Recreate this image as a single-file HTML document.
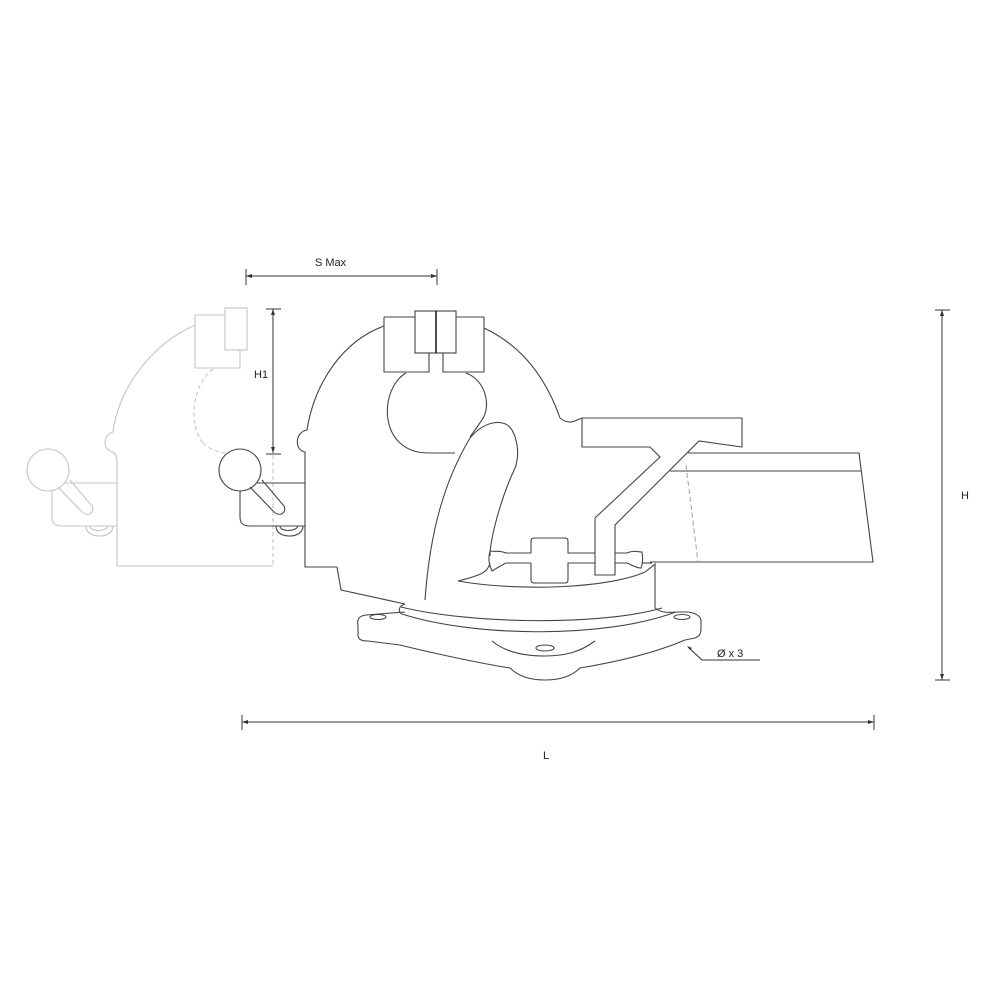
<!DOCTYPE html>
<html><head><meta charset="utf-8"><style>html,body{margin:0;padding:0;background:#fff}svg{display:block}</style></head>
<body>
<svg width="1000" height="1000" viewBox="0 0 1000 1000" xmlns="http://www.w3.org/2000/svg" font-family="Liberation Sans, sans-serif">
<rect width="1000" height="1000" fill="#fff"/>
<!-- Ghost vise -->
<g fill="none" stroke="#c4c4c4" stroke-width="1.1">
  <path d="M195,315 L195,368 L240,368 L240,350"/>
  <path d="M195,315 L225,315"/>
  <rect x="225" y="308" width="22" height="42"/>
  <path d="M195,325 C150,345 118,390 113,432 C103,434 102,450 113,452 C117,455 117,460 117,462 L117,566 L273,566"/>
  <path d="M213,369 C192,385 188,425 203,443" stroke-dasharray="4,3"/>
  <path d="M203,443 C213,452 225,454 235,453" stroke-dasharray="4,3"/>
  <path d="M273,455 L273,566" stroke-dasharray="4,3"/>
  <path d="M117,483 L62,483 C54,483 52,488 52,494 L52,517 C52,524 56,526 62,526 L117,526"/>
  <circle cx="48" cy="470" r="21" fill="#fff"/>
  <path d="M58,487 L82,512 C88,517 95,513 92,506 L70,480"/>
  <path d="M86,526 C86,535 96,536 100,536 C106,536 113,533 113,526"/>
  <path d="M90,526 C90,532 106,532 108,526"/>
</g>
<!-- Front handle (dark) -->
<g fill="none" stroke="#444" stroke-width="1.1">
  <path d="M305,483 L250,483 C242,483 240,488 240,494 L240,517 C240,524 244,526 250,526 L305,526"/>
  <circle cx="240" cy="470" r="21" fill="#fff"/>
  <path d="M250,487 L274,512 C280,517 287,513 284,506 L262,480"/>
  <path d="M276,526 C276,535 286,536 290,536 C296,536 303,533 303,526"/>
  <path d="M280,526 C280,532 296,532 298,526"/>
</g>
<!-- Main vise -->
<g fill="none" stroke="#444" stroke-width="1.1">
  <path d="M688,453 L859,453 L873,562 L650,562"/>
  <path d="M670,471 L861,471"/>
  <path d="M686,465 L698,562" stroke="#aaa" stroke-dasharray="5,3"/>
  <path d="M560,418 C570,426 576,420 582,418 L742,418 L742,447 L699,441 L615,525 L615,575 L595,575 L595,518 L660,457 L650,447 L582,447 L582,418"/>
  <path d="M384,326 C345,340 315,380 307,430 C295,432 294,450 305,452 C305,455 305,458 305,462 L305,567 L337,567"/>
  <path d="M484,328 C520,345 545,375 560,418"/>
  <path d="M384,317 L384,372 L429,372 L429,353"/>
  <path d="M384,317 L415,317"/>
  <path d="M484,317 L484,372 L443,372 L443,353"/>
  <path d="M484,317 L456,317"/>
  <rect x="415" y="311" width="41" height="42"/>
  <line x1="436" y1="311" x2="436" y2="353" stroke="#222" stroke-width="1.6"/>
  <path d="M406,373 C385,385 380,425 400,443 C410,452 420,453 432,453 L455,453"/>
  <path d="M466,373 C485,380 492,405 482,420 L470,437"/>
  <path d="M470,438 C485,420 505,418 512,430 C520,445 518,460 515,468 C500,500 490,540 490,556"/>
  <path d="M470,438 C445,480 430,530 425,600"/>
  <path d="M490,563 C488,572 482,575 458,581"/>
  <path d="M337,567 L341,590 L405,604"/>
  <path d="M531,553 L506,553 C500,550 495,552 490,551 C488,558 489,565 492,571 C497,568 502,565 506,563 L531,563"/>
  <path d="M531,553 L531,541 C531,538 533,538 536,538 L565,538 C568,538 568,540 568,542 L568,553 L595,553"/>
  <path d="M531,563 L531,580 C531,583 533,583 536,583 L565,583 C568,583 568,581 568,579 L568,563 L595,563"/>
  <path d="M615,553 L627,553 C633,550 638,552 642,552 C643,558 643,563 641,568 C636,568 632,565 627,563 L615,563"/>
  <path d="M458,581 C520,592 610,588 645,572 C650,568 653,566 655,564 L655,608"/>
  <path d="M642,563 L652,563"/>
  <path d="M401,607 C470,624 600,626 662,608"/>
  <path d="M405,604 C398,606 398,612 402,614 C470,636 600,640 676,612"/>
  <path d="M655,608 C660,612 665,613 676,612"/>
  <path d="M405,612 L366,615 C358,616 357,620 358,626 L358,636 C359,640 362,641 368,641 L400,645 C440,655 490,665 510,668 C520,678 535,680 545,680 C560,680 572,676 580,668 C610,663 650,655 685,640 L695,638 C700,636 701,633 701,628 L701,620 C700,615 695,613 688,612 L676,612"/>
  <path d="M492,641 C505,652 525,656 545,656 C565,656 580,652 595,641"/>
  <ellipse cx="378" cy="617" rx="8" ry="2.5"/>
  <ellipse cx="682" cy="617" rx="8" ry="2.5"/>
  <ellipse cx="545" cy="648" rx="9" ry="3"/>
</g>
<!-- Dimensions -->
<g stroke="#333" stroke-width="1" fill="none">
  <line x1="246" y1="276" x2="437" y2="276"/>
  <line x1="246" y1="269" x2="246" y2="285"/>
  <line x1="437" y1="269" x2="437" y2="285"/>
  <line x1="273" y1="309" x2="273" y2="453"/>
  <line x1="266" y1="309" x2="281" y2="309"/>
  <line x1="266" y1="454" x2="281" y2="454"/>
  <line x1="942" y1="310" x2="942" y2="680"/>
  <line x1="935" y1="310" x2="950" y2="310"/>
  <line x1="935" y1="680" x2="950" y2="680"/>
  <line x1="242" y1="722" x2="874" y2="722"/>
  <line x1="242" y1="715" x2="242" y2="730"/>
  <line x1="874" y1="715" x2="874" y2="730"/>
  <path d="M688,647 L702,660 L760,660"/>
</g>
<g fill="#333">
  <path d="M246,276 l6,-2 v4z"/><path d="M437,276 l-6,-2 v4z"/>
  <path d="M273,309 l-2,6 h4z"/><path d="M273,453 l-2,-6 h4z"/>
  <path d="M942,310 l-2,6 h4z"/><path d="M942,680 l-2,-6 h4z"/>
  <path d="M242,722 l6,-2 v4z"/><path d="M874,722 l-6,-2 v4z"/>
  <path d="M687,646 l5,2 l-2,2z"/>
</g>
<g font-size="11" fill="#222">
  <text x="315" y="266">S Max</text>
  <text x="254" y="378">H1</text>
  <text x="961" y="499">H</text>
  <text x="543" y="759">L</text>
  <text x="717" y="657">Ø x 3</text>
</g>
</svg>
</body></html>
